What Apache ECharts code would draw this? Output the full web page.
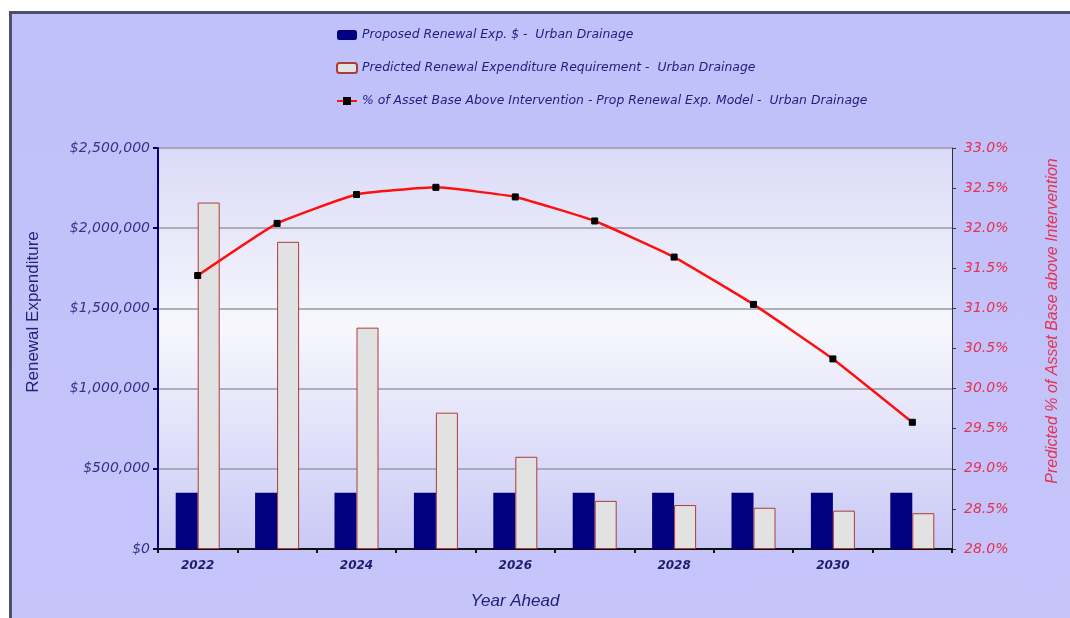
<!DOCTYPE html>
<html>
<head>
<meta charset="utf-8">
<script src="https://cdn.jsdelivr.net/npm/echarts@6/dist/echarts.min.js"></script>
<style>
  html, body { margin: 0; padding: 0; background: #ffffff; }
  #wrap { position: relative; width: 1070px; height: 618px; overflow: hidden; background: #ffffff; }
  #frame { position: absolute; left: 9px; top: 11px; width: 1100px; height: 650px;
           border-left: 3px solid #4e5068; border-top: 3px solid #4e5068;
           background: linear-gradient(to bottom, #c0c0fa 0%, #c6c6fb 100%); }
  #chart { position: absolute; left: 0; top: 0; width: 1070px; height: 618px; }
</style>
</head>
<body>
<div id="wrap"><div id="frame"></div><div id="chart"></div></div>
<script>
const years = ['2022','2023','2024','2025','2026','2027','2028','2029','2030','2031'];
const proposedRenewal = [350000,350000,350000,350000,350000,350000,350000,350000,350000,350000];
const predictedRequirement = [2160000,1915000,1380000,850000,575000,300000,274000,257000,239000,223000];
const assetBasePct = [31.41,32.06,32.42,32.51,32.39,32.09,31.64,31.05,30.37,29.58];
const seriesNames = [
  'Proposed Renewal Exp. $ -  Urban Drainage',
  'Predicted Renewal Expenditure Requirement -  Urban Drainage',
  '% of Asset Base Above Intervention - Prop Renewal Exp. Model -  Urban Drainage'
];

const chart = echarts.init(document.getElementById('chart'), null, {renderer: 'canvas'});
const labelFont = 'DejaVu Sans';
chart.setOption({
  backgroundColor: 'transparent',
  animation: false,
  legend: {
    orient: 'vertical',
    left: 336,
    top: 29,
    padding: 0,
    itemWidth: 20,
    itemHeight: 10,
    itemGap: 21,
    textStyle: { fontFamily: labelFont, fontStyle: 'italic', fontSize: 12.4, color: '#1e1e80' },
    data: seriesNames
  },
  grid: {
    left: 158, right: 118, top: 148, bottom: 69,
    show: true,
    borderWidth: 0,
    backgroundColor: {
      type: 'linear', x: 0, y: 0, x2: 0, y2: 1,
      colorStops: [
        { offset: 0, color: '#dadaf7' },
        { offset: 0.45, color: '#f7f7fd' },
        { offset: 1, color: '#c9c9f6' }
      ]
    }
  },
  xAxis: {
    type: 'category',
    data: years,
    boundaryGap: true,
    axisLine: { lineStyle: { color: '#111111', width: 2 } },
    axisTick: { show: true, interval: 0, length: 4, lineStyle: { color: '#111111', width: 2 } },
    axisLabel: { interval: 1, margin: 11, fontFamily: labelFont, fontStyle: 'italic', fontWeight: 'bold', fontSize: 12, color: '#1e1e70' }
  },
  yAxis: [
    {
      type: 'value', min: 0, max: 2500000, interval: 500000,
      axisLine: { show: true, lineStyle: { color: '#000080', width: 2 } },
      axisTick: { show: true, length: 5, lineStyle: { color: '#000050', width: 2 } },
      axisLabel: {
        margin: 8, fontFamily: labelFont, fontStyle: 'italic', fontSize: 14, color: '#33338c',
        formatter: v => '$' + v.toLocaleString('en-US')
      },
      splitLine: { show: true, lineStyle: { color: '#9a9aa4', width: 1.5 } }
    },
    {
      type: 'value', min: 28, max: 33, interval: 0.5, position: 'right',
      axisLine: { show: true, lineStyle: { color: '#333333', width: 1 } },
      axisTick: { show: true, length: 4, lineStyle: { color: '#333333' } },
      axisLabel: {
        margin: 12, fontFamily: labelFont, fontStyle: 'italic', fontSize: 14, color: '#e5334f',
        formatter: v => v.toFixed(1) + '%'
      },
      splitLine: { show: false }
    }
  ],
  graphic: [
    { type: 'text', x: 33, y: 312, rotation: Math.PI / 2,
      style: { text: 'Renewal Expenditure', font: '17px "Liberation Sans"', fill: '#22227a', textAlign: 'center', textVerticalAlign: 'middle' } },
    { type: 'text', x: 1053, y: 321, rotation: Math.PI / 2,
      style: { text: 'Predicted % of Asset Base above Intervention', font: 'italic 16px "Liberation Sans"', fill: '#e5334f', textAlign: 'center', textVerticalAlign: 'middle' } },
    { type: 'text', x: 515, y: 601,
      style: { text: 'Year Ahead', font: 'italic 17px "Liberation Sans"', fill: '#22227a', textAlign: 'center', textVerticalAlign: 'middle' } }
  ],
  series: [
    {
      name: seriesNames[0], type: 'bar', data: proposedRenewal,
      barWidth: 22, barGap: '0%',
      itemStyle: { color: '#000080' }
    },
    {
      name: seriesNames[1], type: 'bar', data: predictedRequirement,
      barWidth: 22,
      itemStyle: { color: '#e2e2e2', borderColor: '#b03a3a', borderWidth: 1 }
    },
    {
      name: seriesNames[2], type: 'line', yAxisIndex: 1, data: assetBasePct,
      smooth: 0.12,
      symbol: 'rect', symbolSize: 6, showSymbol: true,
      lineStyle: { color: '#ff1010', width: 2.5 },
      itemStyle: { color: '#000000', borderColor: '#000000' },
      z: 5
    }
  ]
});
</script>
</body>
</html>
